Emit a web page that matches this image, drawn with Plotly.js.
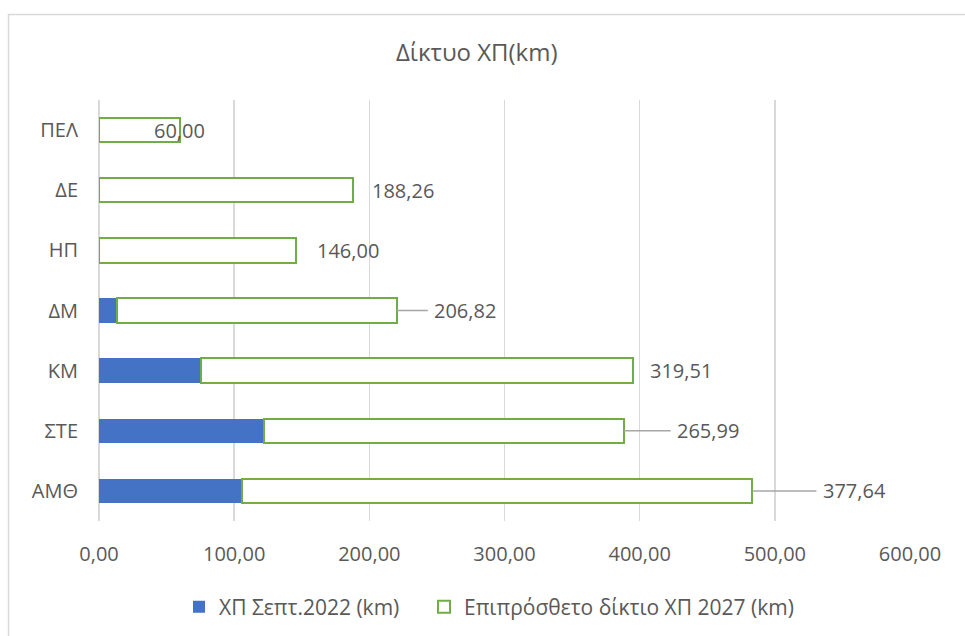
<!DOCTYPE html>
<html><head><meta charset="utf-8">
<script src="https://cdn.plot.ly/plotly-3.0.1.min.js"></script>
<style>html,body{margin:0;padding:0;background:#fff}</style>
</head><body><div id="chart" style="width:965px;height:636px"></div>
<script>
// ---- data ----
const categories = ["ΑΜΘ", "ΣΤΕ", "ΚΜ", "ΔΜ", "ΗΠ", "ΔΕ", "ΠΕΛ"];
const existing2022 = [105.8, 122.2, 75.8, 13.5, 0, 0, 0];
const additional2027 = [377.64, 265.99, 319.51, 206.82, 146.00, 188.26, 60.00];
const seriesNames = ["ΧΠ Σεπτ.2022 (km)", "Επιπρόσθετο δίκτιο ΧΠ 2027 (km)"];
const xTickValues = [0, 100, 200, 300, 400, 500, 600];
const chartTitle = "Δίκτυο ΧΠ(km)";

// ---- label styling (pixel offsets from the bar end, leader lines) ----
const labelOffset = [102, 84.5, 48, 68.5, 51.6, 50, -1];
const labelLeader = [true, true, false, true, false, false, false];

const textColor = "#595959";
const fontFam = "Open Sans, sans-serif";

const traces = [
  {
    type: "bar", orientation: "h", name: seriesNames[0],
    y: categories, x: existing2022,
    marker: {color: "#4472C4", line: {width: 0}},
    legendwidth: 200,
    hoverinfo: "x+y"
  },
  {
    type: "bar", orientation: "h", name: seriesNames[1],
    y: categories, x: additional2027,
    marker: {color: "#FFFFFF", line: {color: "#70AD47", width: 2}},
    hoverinfo: "x+y"
  }
];

const annotations = categories.map((c, i) => {
  const total = existing2022[i] + additional2027[i];
  const txt = additional2027[i].toFixed(2).replace(".", ",");
  const base = {
    x: total, y: c, xref: "x", yref: "y", text: txt,
    font: {family: fontFam, size: 20, color: textColor}
  };
  if (labelLeader[i]) {
    return Object.assign(base, {
      showarrow: true, ax: labelOffset[i], ay: 0, axref: "pixel", ayref: "pixel",
      arrowhead: 0, arrowwidth: 1.5, arrowcolor: "#A6A6A6", borderpad: 6, standoff: 0
    });
  }
  return Object.assign(base, {showarrow: false, xshift: labelOffset[i]});
});

const layout = {
  width: 965, height: 636,
  margin: {l: 99, r: 55, t: 100, b: 115},
  paper_bgcolor: "#FFFFFF", plot_bgcolor: "#FFFFFF",
  separators: ",.",
  barmode: "stack",
  bargap: 0.595,
  font: {family: fontFam, size: 20, color: textColor},
  title: {
    text: chartTitle, x: 0.494, xref: "container", xanchor: "center",
    y: 0.918, yref: "container", yanchor: "middle",
    font: {family: fontFam, size: 24, color: textColor}
  },
  xaxis: {
    range: [0, 600], tickvals: xTickValues, tickformat: ".2f",
    showgrid: true, gridcolor: "#D9D9D9", gridwidth: 1.5,
    zeroline: true, zerolinecolor: "#D9D9D9", zerolinewidth: 1.5,
    showline: false, ticks: "", ticklabelstandoff: 19, automargin: false,
    tickfont: {family: fontFam, size: 20, color: textColor},
    fixedrange: true
  },
  yaxis: {
    type: "category", categoryorder: "array", categoryarray: categories,
    showgrid: false, zeroline: false, showline: false, ticks: "",
    ticklabelstandoff: 20, automargin: false,
    tickfont: {family: fontFam, size: 20, color: textColor},
    fixedrange: true
  },
  legend: {
    orientation: "h", x: 0.1855, xanchor: "left", xref: "container",
    y: 0.0456, yanchor: "middle", yref: "container",
    font: {family: fontFam, size: 21, color: textColor},
    traceorder: "normal", bgcolor: "rgba(0,0,0,0)", itemclick: false
  },
  annotations: annotations,
  shapes: [{
    type: "rect", xref: "paper", yref: "paper",
    x0: (8.5 - 99) / 811, x1: 2, y0: -2, y1: (521 - 14.5) / 421,
    line: {color: "#D9D9D9", width: 1.5}, fillcolor: "rgba(0,0,0,0)", layer: "below"
  }],
  showlegend: true
};

Plotly.newPlot("chart", traces, layout, {displayModeBar: false, staticPlot: true});
</script>
</body></html>
